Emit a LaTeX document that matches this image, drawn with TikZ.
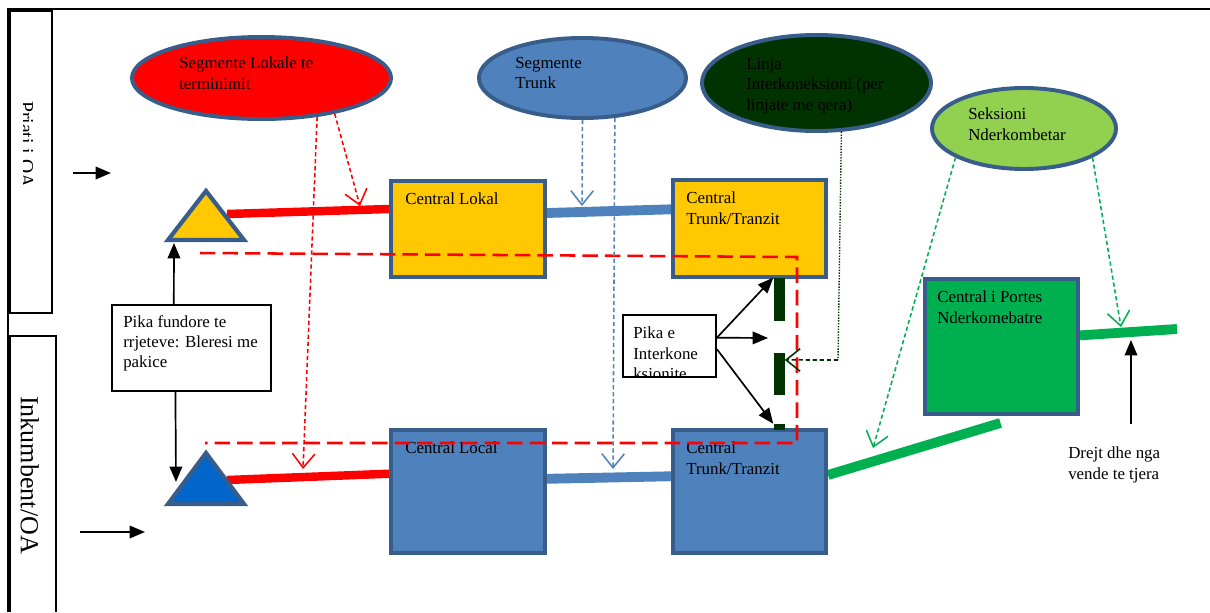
\documentclass[tikz,border=0pt]{standalone}
\usepackage{fontspec}
\setmainfont{Liberation Serif}
\usetikzlibrary{calc,shapes.geometric,arrows.meta}
\definecolor{edgeblue}{HTML}{385D8A}
\definecolor{boxyellow}{HTML}{FFC800}
\definecolor{boxblue}{HTML}{4F81BD}
\definecolor{triblue}{HTML}{0066CC}
\definecolor{darkgr}{HTML}{003300}
\definecolor{lightgr}{HTML}{92D050}
\definecolor{boxgreen}{HTML}{00B050}
\tikzset{
  seg/.style={ellipse,draw=edgeblue,line width=2.8pt,inner sep=0pt},
  central/.style={rectangle,draw=edgeblue,line width=2.8pt,inner sep=0pt},
  txt/.style={anchor=north west,inner sep=0pt,align=left,font=\fontsize{12}{14.5}\selectfont},
  note/.style={rectangle,draw=black,line width=1.3pt,inner sep=0pt,fill=white},
  link/.style={line width=6pt},
  thin arrow/.style={line width=1.1pt,dash pattern=on 3pt off 2pt,-{Straight Barb[length=10pt,width=16pt]}},
  black arrow/.style={line width=1.2pt,-{Triangle[length=11pt,width=9pt]}},
  tri/.style={draw=edgeblue,line width=3pt,line join=miter}
}

\begin{document}
\begin{tikzpicture}[x=0.025cm,y=-0.025cm]
    \useasboundingbox (0,0) rectangle (1210,612);
    % frame and side labels
    \draw[line width=1.4pt] (8,612) -- (8,9) -- (1210,9);
    \draw[line width=1.2pt] (10,11) rectangle (52,313);
    \draw[line width=1.2pt] (10,612) -- (10,336) -- (56,336) -- (56,612);
    \begin{scope}
        \clip (23,11) rectangle (52,313);
        \node[rotate=-90,anchor=base west,inner sep=0pt,font=\fontsize{14}{16}\selectfont] (prisi) at (20,101) {Priati i OA};
    \end{scope}
    \node[rotate=-90,anchor=base west,inner sep=0pt,font=\fontsize{18.5}{20}\selectfont] (inkumbent) at (21,396) {Inkumbent/OA};
    \coordinate (in-top-s) at (73,173);
    \coordinate (in-top-e) at (111,173);
    \coordinate (in-bot-s) at (80,532);
    \coordinate (in-bot-e) at (145,532);
    \draw[black arrow] (in-top-s) -- (in-top-e);
    \draw[black arrow] (in-bot-s) -- (in-bot-e);

    % segments
    \node[seg,fill=red,minimum width=6.475cm,minimum height=2.05cm] (lokale) at (261.5,78) {};
    \node[txt] at (179,57) {Segmente Lokale te\\terminimit};
    \node[seg,fill=boxblue,minimum width=5.175cm,minimum height=2cm] (trunkseg) at (582.5,78) {};
    \node[txt] at (515,57) {Segmente\\Trunk};
    \node[seg,fill=darkgr,minimum width=5.725cm,minimum height=2.4cm] (interkon) at (816.5,83) {};
    \node[txt] at (746,58) {Linja\\Interkoneksioni (per\\linjate me qera)};
    \node[seg,fill=lightgr,minimum width=4.6cm,minimum height=2.025cm] (nderk) at (1024,128.5) {};
    \node[txt] at (968,108) {Seksioni\\Nderkombetar};

    % lines between the centrals
    \coordinate (ytri) at (227,214);
    \coordinate (btri) at (227,480);
    \coordinate (gout) at (1177,329);
    \node[central,minimum width=3.85cm,minimum height=2.4cm] (lokal) at (468,229) {};
    \node[central,minimum width=3.825cm,minimum height=2.425cm] (trunkA) at (749.5,228.5) {};
    \node[central,minimum width=3.85cm,minimum height=3.075cm] (local) at (468,491.5) {};
    \node[central,minimum width=3.825cm,minimum height=3.075cm] (trunkB) at (749.5,491.5) {};
    \node[central,minimum width=3.825cm,minimum height=3.375cm] (portes) at (1001.5,346.5) {};
    \draw[link,red] (ytri) -- ($(lokal.north west)!0.3!(lokal.south west)$);
    \draw[link,red] (btri) -- ($(local.north west)!0.36!(local.south west)$);
    \draw[link,boxblue,line width=7pt] ($(lokal.north east)!0.34!(lokal.south east)$) -- ($(trunkA.north west)!0.31!(trunkA.south west)$);
    \draw[link,boxblue,line width=7pt] ($(local.north east)!0.4!(local.south east)$) -- ($(trunkB.north west)!0.38!(trunkB.south west)$);
    \draw[link,boxgreen,line width=7pt] ($(trunkB.north east)!0.37!(trunkB.south east)$) -- ($(portes.south)+(-1,7)$);
    \draw[link,boxgreen,line width=7pt] ($(portes.north east)!0.42!(portes.south east)$) -- (gout);

    % centrals
    \node[central,fill=boxyellow,minimum width=3.85cm,minimum height=2.4cm] at (lokal) {};
    \node[txt] at (405,193) {Central Lokal};
    \node[central,fill=boxyellow,minimum width=3.825cm,minimum height=2.425cm] at (trunkA) {};
    \node[txt] at (686,192) {Central\\Trunk/Tranzit};
    \node[central,fill=boxblue,minimum width=3.85cm,minimum height=3.075cm] at (local) {};
    \node[txt] at (405,442) {Central Local};
    \node[central,fill=boxblue,minimum width=3.825cm,minimum height=3.075cm] at (trunkB) {};
    \node[txt] at (686,442) {Central\\Trunk/Tranzit};
    \node[central,fill=boxgreen,minimum width=3.825cm,minimum height=3.375cm] at (portes) {};
    \node[txt] at (937,291) {Central i Portes\\Nderkomebatre};

    % end points
    \draw[tri,fill=boxyellow] (168,240) -- (206,191) -- (244,240) -- cycle;
    \draw[tri,fill=triblue] (168,504) -- (206,453) -- (244,504) -- cycle;

    % interconnection bars
    \node[fill=darkgr,inner sep=0pt,minimum width=0.275cm,minimum height=1.075cm] (bar1) at (779,299.5) {};
    \node[fill=darkgr,inner sep=0pt,minimum width=0.275cm,minimum height=1.05cm] (bar2) at (779,374) {};
    \node[fill=darkgr,inner sep=0pt,minimum width=0.275cm,minimum height=0.15cm] (bar3) at (779,427) {};

    \draw[red,line width=1.8pt,dash pattern=on 11pt off 5pt] (200,253) -- (797,257) -- (797,443) -- (205,443);

    % text boxes
    \node[note,minimum width=3.975cm,minimum height=2.15cm] (fundore) at (191.5,348) {};
    \node[txt] at (123,315) {Pika fundore te\\rrjeteve: Bleresi me\\pakice};
    \node[note,minimum width=2.325cm,minimum height=1.55cm] (pikae) at (669.5,346) {};
    \begin{scope}
        \clip ($(pikae.north west)+(1,1)$) rectangle ($(pikae.south east)+(-1,-1)$);
        \node[txt] at (633,327) {Pika e\\Interkone\\ksionite};
    \end{scope}

    \coordinate (ytri-b) at (174,243);
    \coordinate (btri-l) at (176,482);
    \draw[black arrow] ($(fundore.north west)!0.39!(fundore.north east)$) -- (ytri-b);
    \draw[black arrow] ($(fundore.south west)!0.4!(fundore.south east)$) -- (btri-l);
    \coordinate (pk1) at ($(pikae.north east)!0.37!(pikae.south east)$);
    \coordinate (pk3) at ($(pikae.north east)!0.55!(pikae.south east)$);
    \coordinate (gap) at (768,338);
    \draw[black arrow] (pk1) -- (bar1.north west);
    \draw[black arrow] (pk1) -- (gap);
    \draw[black arrow] (pk3) -- (bar3.north west);

    % segment pointers
    \coordinate (r1) at (303,469);
    \coordinate (r2) at (360,206);
    \coordinate (b1) at (582,206);
    \coordinate (b2) at (613,469);
    \coordinate (g1) at (873,448);
    \coordinate (g2) at (1121,327);
    \coordinate (dg) at (838,360);
    \draw[thin arrow,red] (lokale.-35) -- (r1);
    \draw[thin arrow,red] (lokale.-26) -- (r2);
    \draw[thin arrow,boxblue] (trunkseg.-90) -- (b1);
    \draw[thin arrow,boxblue] (trunkseg.-51) -- (b2);
    \draw[thin arrow,boxgreen] (nderk.-157) -- (g1);
    \draw[thin arrow,boxgreen] (nderk.-23) -- (g2);
    \draw[darkgr,line width=1pt,densely dotted] (interkon.-63) -- (dg);
    \draw[thin arrow,darkgr] (dg) -- ($(bar2.north east)!0.17!(bar2.south east)$);

    \coordinate (drejt-s) at (1131,424);
    \coordinate (drejt-e) at (1131,340);
    \draw[black arrow] (drejt-s) -- (drejt-e);
    \node[txt] at (1068,447) {Drejt dhe nga\\vende te tjera};
\end{tikzpicture}
\end{document}
